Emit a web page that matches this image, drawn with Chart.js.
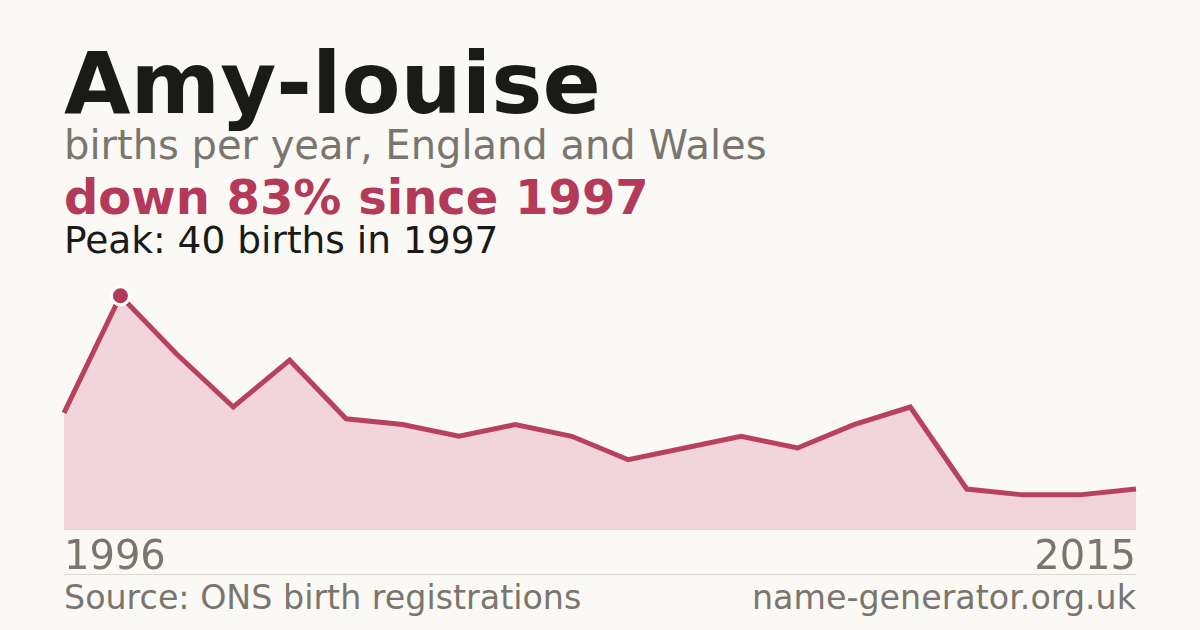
<!DOCTYPE html>
<html>
<head>
<meta charset="utf-8">
<script src="https://cdn.jsdelivr.net/npm/chart.js@4"></script>
<style>
  html, body { margin: 0; padding: 0; }
  body {
    width: 1200px; height: 630px; overflow: hidden; position: relative;
    background: #faf9f5; font-family: 'DejaVu Sans', sans-serif;
  }
  .txt { position: absolute; left: 64px; white-space: nowrap; }
  #title { top: 40px; font-size: 86px; line-height: 86px; font-weight: bold; color: #1a1a18; }
  #sub { top: 125px; font-size: 40px; line-height: 40px; color: #7a756d; }
  #change { top: 173px; font-size: 48px; line-height: 48px; font-weight: bold; color: #b33a58; }
  #peak { top: 222px; font-size: 37.5px; line-height: 37.5px; color: #1a1a18; }
  #rule { position: absolute; left: 64px; top: 574px; width: 1072px; height: 1px; background: #dcd9d2; }
  .foot { top: 581px; font-size: 33.3px; line-height: 33.3px; color: #7a756d; }
  #site { left: auto; right: 64px; }
  #wrap { position: absolute; left: 54px; top: 270px; width: 1092px; height: 300px; }
</style>
</head>
<body>
<div class="txt" id="title">Amy-louise</div>
<div class="txt" id="sub">births per year, England and Wales</div>
<div class="txt" id="change">down 83% since 1997</div>
<div class="txt" id="peak">Peak: 40 births in 1997</div>
<div id="wrap"><canvas id="chart"></canvas></div>
<div id="rule"></div>
<div class="txt foot" id="source">Source: ONS birth registrations</div>
<div class="txt foot" id="site">name-generator.org.uk</div>
<script>
// births per year
const years = ['1996', '1997', '1998', '1999', '2000', '2001', '2002', '2003', '2004', '2005',
  '2006', '2007', '2008', '2009', '2010', '2011', '2012', '2013', '2014', '2015'];
const births = [20, 40, 30, 21, 29, 19, 18, 16, 18, 16, 12, 14, 16, 14, 18, 21, 7, 6, 6, 7];

const peakIndex = births.indexOf(Math.max(...births));
const lineColor = '#b8425e';

Chart.defaults.font.family = "'DejaVu Sans', sans-serif";

new Chart(document.getElementById('chart').getContext('2d'), {
  type: 'line',
  data: {
    labels: years,
    datasets: [{
      data: births,
      borderColor: lineColor,
      borderWidth: 5,
      backgroundColor: '#f2d5da',
      fill: 'origin',
      tension: 0,
      // only the peak year gets a dot
      pointRadius: (ctx) => ctx.dataIndex === peakIndex ? 9 : 0,
      pointHoverRadius: 0,
      pointBackgroundColor: '#b33a58',
      pointBorderColor: '#ffffff',
      pointBorderWidth: 3,
    }]
  },
  options: {
    responsive: true,
    maintainAspectRatio: false,
    animation: false,
    layout: { padding: { left: 10, right: 10, top: 0, bottom: 0 } },
    plugins: { legend: { display: false }, tooltip: { enabled: false } },
    scales: {
      x: {
        grid: { display: false, drawTicks: false },
        border: { display: false },
        // fixed axis height so the plot bottom lands at y=530
        afterFit: (scale) => { scale.height = 40; },
        ticks: {
          autoSkip: false,
          maxRotation: 0,
          align: 'inner',
          padding: 5,
          color: '#7a756d',
          font: { size: 40 },
          callback: (value, index) =>
            (index === 0 || index === years.length - 1) ? years[index] : '',
        },
      },
      y: {
        display: false,
        min: 0,
        max: 44.4,
      },
    },
  },
});
</script>
</body>
</html>
